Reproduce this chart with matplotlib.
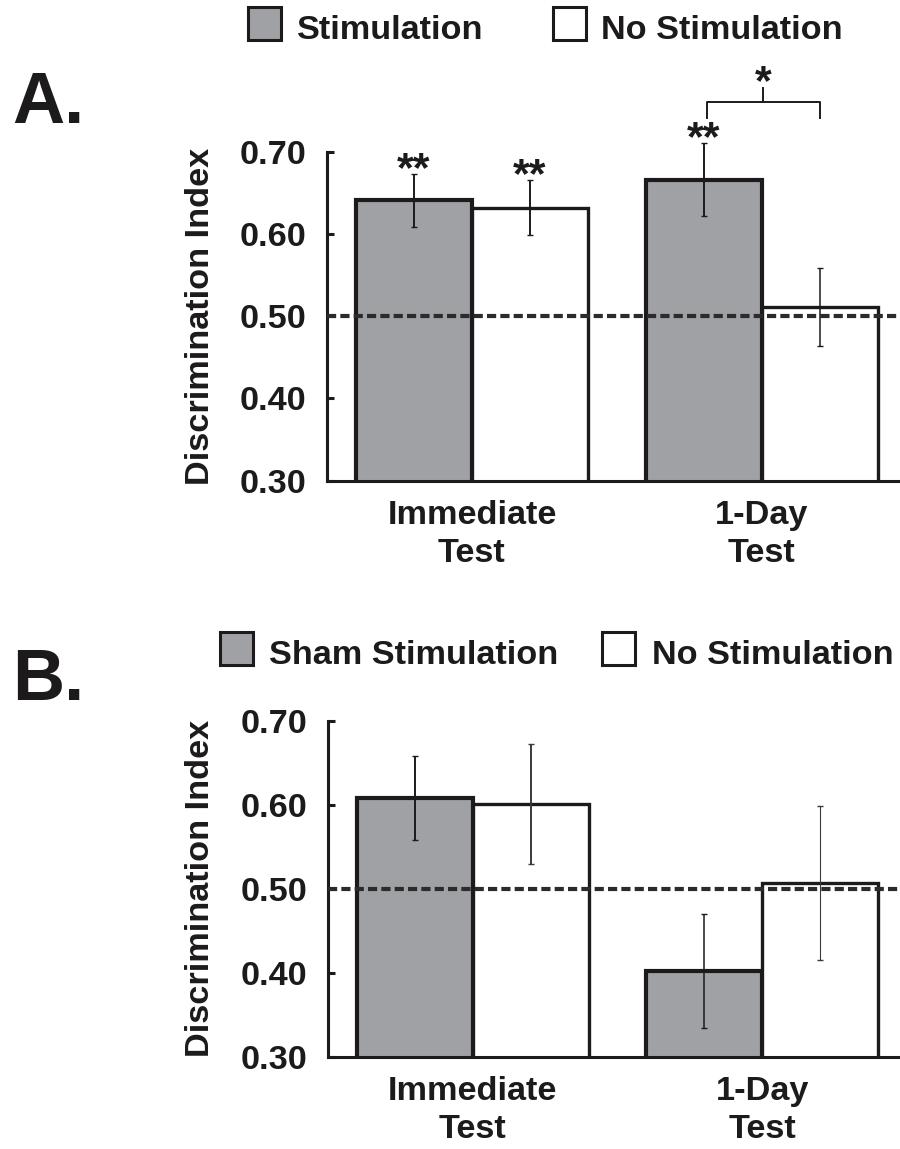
import matplotlib
matplotlib.use('Agg')
import matplotlib.pyplot as plt
from matplotlib.patches import Rectangle
from matplotlib.transforms import blended_transform_factory
import numpy as np

# ---------------- data ----------------
categories = ['Immediate\nTest', '1-Day\nTest']
yticks = [0.30, 0.40, 0.50, 0.60, 0.70]
ytick_labels = ['0.30', '0.40', '0.50', '0.60', '0.70']
ylabel = 'Discrimination Index'
chance_level = 0.50

# Panel A
a_series = ['Stimulation', 'No Stimulation']
a_stim = [0.641, 0.666]
a_stim_err = [0.032, 0.044]
a_nostim = [0.632, 0.511]
a_nostim_err = [0.033, 0.047]
a_stim_sig = ['**', '**']
a_nostim_sig = ['**', '']
a_bracket_sig = '*'

# Panel B
b_series = ['Sham Stimulation', 'No Stimulation']
b_sham = [0.608, 0.402]
b_sham_err = [0.050, 0.068]
b_nostim = [0.601, 0.507]
b_nostim_err = [0.071, 0.092]

# ---------------- style ----------------
W, H = 900, 1149
plt.rcParams['font.family'] = ['Liberation Sans', 'DejaVu Sans']
plt.rcParams['font.weight'] = 'bold'
plt.rcParams['axes.labelweight'] = 'bold'
TXT = '#1c1a1b'
GRAY = '#a0a1a5'
FS = 24.7
STAR_FS = 31
BAR_W = 0.4

fig = plt.figure(figsize=(W / 100, H / 100), dpi=100)


def fx(px):
    return px / W


def fy(py):
    return 1 - py / H


def make_axes(left_px, top_px, bottom_px):
    ax = fig.add_axes([fx(left_px), fy(bottom_px), 1 - fx(left_px),
                       (bottom_px - top_px) / H])
    return ax


def draw_panel(ax, s1, e1, s2, e2, elw1, elw2, ecol2='#1c1a1b'):
    x = np.arange(len(categories))
    ax.bar(x - BAR_W / 2, s1, BAR_W, color=GRAY, edgecolor=TXT,
           linewidth=3.0, zorder=2)
    ax.bar(x + BAR_W / 2, s2, BAR_W, color='white', edgecolor=TXT,
           linewidth=2.4, zorder=2)
    ax.axhline(chance_level, color='#2b2b2b', lw=3.0,
               ls=(0, (2.2, 1.0)), zorder=3)
    for i in range(len(categories)):
        for xs, v, e, lw, col in ((x[i] - BAR_W / 2, s1[i], e1[i], elw1[i], TXT),
                                  (x[i] + BAR_W / 2, s2[i], e2[i], elw2[i], ecol2)):
            cont = ax.errorbar(xs, v, yerr=e, fmt='none', ecolor=col,
                               elinewidth=lw, capsize=2.2, capthick=1.0,
                               zorder=4)
            for art in cont.lines[1] + cont.lines[2]:
                art.set_clip_on(False)
    ax.set_xlim(-0.5, 1.476)
    ax.set_ylim(0.30, 0.70)
    ax.set_xticks(x)
    ax.set_xticklabels(categories, fontsize=FS, color=TXT, linespacing=1.3)
    ax.set_yticks(yticks)
    ax.set_yticklabels(ytick_labels, fontsize=FS, color=TXT)
    ax.tick_params(axis='y', direction='in', length=5, width=2.2,
                   pad=15, colors=TXT)
    ax.tick_params(axis='x', length=0, pad=14, colors=TXT)
    for s in ('top', 'right'):
        ax.spines[s].set_visible(False)
    ax.spines['left'].set_linewidth(2.2)
    ax.spines['bottom'].set_linewidth(2.2)
    ax.spines['left'].set_bounds(0.30, 0.70)
    ax.spines['left'].set_color(TXT)
    ax.spines['bottom'].set_color(TXT)
    ax.set_ylabel(ylabel, fontsize=FS, color=TXT, fontweight='bold')
    tr = blended_transform_factory(fig.transFigure, ax.transAxes)
    ax.yaxis.set_label_coords(fx(216), 0.5, transform=tr)
    return x


def legend(items, sq_left, text_left, center_y):
    for (label, face), sl, tl in zip(items, sq_left, text_left):
        fig.add_artist(Rectangle((fx(sl), fy(center_y + 16.5)), 33 / W, 33 / H,
                                 transform=fig.transFigure, facecolor=face,
                                 edgecolor=TXT, lw=2.2))
        fig.text(fx(tl), fy(center_y + 15.5), label, fontsize=FS, color=TXT,
                 ha='left', va='baseline')


# ---------------- Panel A ----------------
axA = make_axes(327, 151.7, 480.7)
xA = draw_panel(axA, a_stim, a_stim_err, a_nostim, a_nostim_err,
                [1.4, 1.4], [1.4, 1.1])
for i in range(len(categories)):
    for xs, v, e, lab in ((xA[i] - BAR_W / 2, a_stim[i], a_stim_err[i], a_stim_sig[i]),
                          (xA[i] + BAR_W / 2, a_nostim[i], a_nostim_err[i], a_nostim_sig[i])):
        if lab:
            axA.annotate(lab, xy=(xs, v + e), xytext=(0, -5),
                         textcoords='offset points', ha='center',
                         va='baseline', fontsize=STAR_FS, color=TXT,
                         annotation_clip=False)
# bracket between stimulation and no-stimulation at 1-Day test
bx0, bx1 = xA[1] - BAR_W / 2 + 0.01, xA[1] + BAR_W / 2
y_arm, y_bar, y_tick = 0.741, 0.760, 0.778
axA.plot([bx0, bx0, bx1, bx1], [y_arm, y_bar, y_bar, y_arm], color=TXT,
         lw=1.4, clip_on=False, solid_joinstyle='round')
axA.plot([(bx0 + bx1) / 2] * 2, [y_bar, y_tick], color=TXT, lw=1.4,
         clip_on=False)
axA.annotate(a_bracket_sig, xy=((bx0 + bx1) / 2, y_tick), xytext=(0, -5),
             textcoords='offset points', ha='center', va='baseline',
             fontsize=STAR_FS, color=TXT, annotation_clip=False)

legend([(a_series[0], GRAY), (a_series[1], 'white')], [248, 553], [297, 601], 23.5)
fig.text(fx(12), fy(123), 'A.', fontsize=52, color=TXT, ha='left', va='baseline')

# ---------------- Panel B ----------------
axB = make_axes(328, 720.7, 1056.7)
draw_panel(axB, b_sham, b_sham_err, b_nostim, b_nostim_err,
           [1.4, 1.1], [1.4, 0.8], ecol2='#3a3a3a')
legend([(b_series[0], GRAY), (b_series[1], 'white')], [220, 602], [269, 652], 648)
fig.text(fx(12), fy(700), 'B.', fontsize=52, color=TXT, ha='left', va='baseline')

fig.savefig('out.png', dpi=100)
